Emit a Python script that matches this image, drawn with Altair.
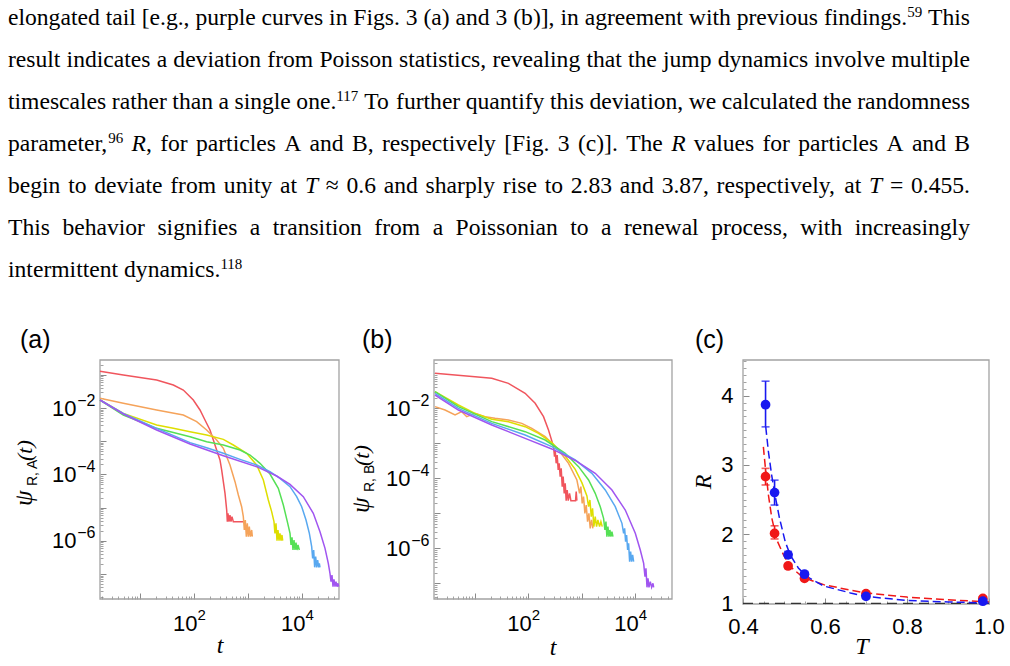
import re
import altair as alt
import pandas as pd

W, H = 1010, 666
SANS = "Liberation Sans, Arial, sans-serif"
SERIF = "Liberation Serif, Times New Roman, serif"
FRAME = "#a3a3a3"
TICK = "#8a8a8a"
TMAJ, TMIN = 6, 3

# ---------------- paragraph text (^..^ = superscript, *..* = italic) ----------------
para_markup = [
    "elongated tail [e.g., purple curves in Figs. 3 (a) and 3 (b)], in agreement with previous findings.^59^ This",
    "result indicates a deviation from Poisson statistics, revealing that the jump dynamics involve multiple",
    "timescales rather than a single one.^117^ To further quantify this deviation, we calculated the randomness",
    "parameter,^96^ *R*, for particles A and B, respectively [Fig. 3 (c)]. The *R* values for particles A and B",
    "begin to deviate from unity at *T* \u2248 0.6 and sharply rise to 2.83 and 3.87, respectively, at *T* = 0.455.",
    "This behavior signifies a transition from a Poissonian to a renewal process, with increasingly",
    "intermittent dynamics.^118^",
]

# ---------------- panel (a): log10(t), log10(psi_R,A) ----------------
curve_names = ["red", "orange", "yellow", "green", "blue", "purple"]
curve_colors = ["#f0555d", "#f5a35a", "#dede00", "#55e055", "#58a8f0", "#a055f0"]

a_red_lt = [0.26, 0.692, 1.309, 1.618, 1.803, 1.988, 2.112, 2.204, 2.297, 2.359, 2.42, 2.482, 2.513, 2.544, 2.575, 2.606, 2.618, 2.63, 2.649, 2.667, 2.686, 2.704, 2.729, 2.914]
a_red_lp = [-0.896, -1.006, -1.157, -1.307, -1.458, -1.759, -2.06, -2.361, -2.663, -2.964, -3.265, -3.566, -3.867, -4.219, -4.57, -5.072, -5.424, -5.173, -5.424, -5.223, -5.424, -5.273, -5.424, -5.424]
a_orange_lt = [0.26, 0.692, 1.309, 1.803, 2.05, 2.235, 2.42, 2.544, 2.667, 2.76, 2.822, 2.883, 2.914, 2.933, 2.951, 2.97, 2.988, 3.007, 3.025, 3.044, 3.069, 3.081]
a_orange_lp = [-1.709, -1.859, -2.06, -2.211, -2.412, -2.663, -2.964, -3.215, -3.717, -4.219, -4.62, -4.972, -5.273, -5.675, -5.373, -5.876, -5.474, -5.876, -5.574, -5.876, -5.675, -5.876]
a_yellow_lt = [0.26, 0.692, 1.309, 1.618, 1.927, 2.235, 2.544, 2.729, 2.976, 3.161, 3.285, 3.377, 3.439, 3.482, 3.5, 3.519, 3.538, 3.556, 3.575, 3.593, 3.612, 3.63, 3.643]
a_yellow_lp = [-1.759, -2.161, -2.512, -2.612, -2.713, -2.813, -2.944, -3.114, -3.365, -3.717, -4.169, -4.771, -5.122, -5.424, -5.775, -5.474, -5.996, -5.675, -5.996, -5.775, -5.996, -5.825, -5.996]
a_green_lt = [0.26, 0.692, 1.309, 1.927, 2.235, 2.544, 2.853, 3.038, 3.223, 3.408, 3.562, 3.655, 3.729, 3.779, 3.797, 3.816, 3.834, 3.853, 3.871, 3.89, 3.908, 3.927, 3.951]
a_green_lp = [-1.759, -2.211, -2.612, -2.863, -3.014, -3.114, -3.265, -3.416, -3.667, -3.988, -4.42, -4.922, -5.424, -5.775, -6.127, -5.896, -6.277, -5.976, -6.277, -6.056, -6.277, -6.127, -6.277]
a_blue_lt = [0.26, 0.692, 1.309, 1.927, 2.235, 2.544, 2.853, 3.161, 3.408, 3.593, 3.779, 3.902, 3.995, 4.075, 4.137, 4.18, 4.198, 4.217, 4.235, 4.254, 4.272, 4.291, 4.309, 4.322, 4.334]
a_blue_lp = [-1.759, -2.161, -2.612, -3.044, -3.195, -3.365, -3.546, -3.717, -3.918, -4.118, -4.369, -4.671, -4.972, -5.373, -5.775, -6.177, -6.528, -6.277, -6.799, -6.478, -6.799, -6.578, -6.799, -6.679, -6.799]
a_purple_lt = [0.26, 0.692, 1.309, 1.927, 2.544, 3.161, 3.532, 3.779, 4.025, 4.21, 4.334, 4.427, 4.488, 4.519, 4.538, 4.556, 4.575, 4.593, 4.612, 4.63, 4.649, 4.667, 4.68]
a_purple_lp = [-1.759, -2.181, -2.663, -3.084, -3.436, -3.767, -4.048, -4.299, -4.671, -5.173, -5.725, -6.227, -6.679, -6.98, -7.231, -7.03, -7.382, -7.161, -7.382, -7.231, -7.382, -7.281, -7.382]

# ---------------- panel (b): log10(t), log10(psi_R,B) ----------------
b_red_lt = [0.262, 1.009, 1.321, 1.632, 1.944, 2.131, 2.287, 2.38, 2.474, 2.492, 2.505, 2.523, 2.542, 2.561, 2.579, 2.598, 2.617, 2.636, 2.654, 2.673, 2.692, 2.71, 2.729, 2.748, 2.773, 2.798, 2.885, 2.897, 2.91]
b_red_lp = [-1.0, -1.095, -1.143, -1.286, -1.571, -1.857, -2.238, -2.619, -3.095, -3.381, -3.19, -3.571, -3.333, -3.762, -3.571, -3.952, -3.714, -4.238, -3.952, -4.429, -4.143, -4.638, -4.333, -4.638, -4.429, -4.638, -4.638, -4.381, -4.638]
b_orange_lt = [0.262, 0.449, 0.636, 0.76, 0.854, 1.009, 1.196, 1.383, 1.632, 1.882, 2.069, 2.318, 2.567, 2.754, 2.91, 2.96, 2.984, 3.009, 3.034, 3.059, 3.084, 3.109, 3.134, 3.159, 3.184, 3.209]
b_orange_lp = [-1.952, -2.048, -2.19, -2.095, -2.238, -2.143, -2.238, -2.286, -2.333, -2.429, -2.571, -2.81, -3.19, -3.571, -4.048, -4.429, -4.238, -4.714, -4.524, -5.0, -4.762, -5.238, -5.0, -5.429, -5.19, -5.429]
b_yellow_lt = [0.262, 0.698, 1.009, 1.321, 1.632, 1.944, 2.193, 2.442, 2.692, 2.879, 3.003, 3.097, 3.128, 3.153, 3.178, 3.202, 3.227, 3.252, 3.277, 3.302, 3.333, 3.358, 3.383]
b_yellow_lp = [-1.524, -1.905, -2.143, -2.314, -2.381, -2.524, -2.714, -2.981, -3.362, -3.743, -4.124, -4.505, -4.81, -4.619, -5.095, -4.857, -5.381, -5.095, -5.381, -5.19, -5.381, -5.238, -5.381]
b_green_lt = [0.262, 0.698, 1.321, 1.944, 2.318, 2.692, 2.941, 3.128, 3.252, 3.346, 3.408, 3.433, 3.452, 3.47, 3.489, 3.508, 3.526, 3.545, 3.564, 3.583]
b_green_lp = [-1.524, -1.952, -2.381, -2.667, -2.905, -3.286, -3.667, -4.048, -4.429, -4.81, -5.143, -5.476, -5.238, -5.667, -5.381, -5.667, -5.476, -5.667, -5.524, -5.667]
b_blue_lt = [0.262, 0.698, 1.321, 1.944, 2.442, 2.879, 3.19, 3.439, 3.626, 3.751, 3.782, 3.801, 3.819, 3.838, 3.857, 3.875, 3.894, 3.913, 3.931, 3.95, 3.969]
b_blue_lp = [-1.571, -2.0, -2.429, -2.762, -3.095, -3.476, -3.857, -4.333, -4.81, -5.286, -5.571, -5.429, -5.81, -5.619, -6.048, -5.857, -6.381, -6.095, -6.381, -6.19, -6.381]
b_purple_lt = [0.262, 0.698, 1.321, 1.944, 2.442, 2.879, 3.252, 3.564, 3.813, 4.0, 4.093, 4.156, 4.181, 4.199, 4.218, 4.237, 4.255, 4.28, 4.305, 4.33, 4.343]
b_purple_lp = [-1.619, -2.048, -2.476, -2.857, -3.16, -3.49, -3.857, -4.333, -4.905, -5.571, -6.048, -6.429, -6.81, -6.571, -7.114, -6.857, -7.114, -6.952, -7.114, -7.0, -7.114]

# ---------------- panel (c): randomness parameter R(T) ----------------
c_T = [0.455, 0.477, 0.51, 0.55, 0.70, 0.985]
c_R_A = [2.83, 2.01, 1.54, 1.36, 1.14, 1.07]
c_R_B = [3.87, 2.60, 1.70, 1.42, 1.10, 1.03]
c_lo_A = [2.71, 1.93, 1.51, 1.34, 1.12, 1.05]
c_hi_A = [2.95, 2.12, 1.57, 1.38, 1.16, 1.09]
c_lo_B = [3.55, 2.42, 1.66, 1.39, 1.08, 1.01]
c_hi_B = [4.21, 2.78, 1.75, 1.46, 1.12, 1.05]
fit_A_T = [0.4497, 0.4539, 0.462, 0.4703, 0.4825, 0.4988, 0.515, 0.5477, 0.5967, 0.662, 0.70, 0.80, 0.90, 1.0]
fit_A_R = [3.26, 3.0, 2.565, 2.23, 1.915, 1.70, 1.53, 1.37, 1.27, 1.19, 1.15, 1.09, 1.05, 1.02]
fit_B_T = [0.4555, 0.462, 0.470, 0.478, 0.489, 0.503, 0.515, 0.535, 0.556, 0.597, 0.662, 0.70, 0.80, 0.90, 1.0]
fit_B_R = [3.55, 3.19, 2.85, 2.565, 2.23, 1.89, 1.70, 1.51, 1.385, 1.25, 1.15, 1.10, 1.04, 1.02, 1.005]
unity_T = [0.4, 1.0]
unity_R = [1.0, 1.0]
C_RED, C_BLUE = "#f01818", "#1818f0"

# ---------------- axes / ticks ----------------
t_major = [10, 100, 1000, 10000]
t_minor = [m * 10 ** k for k in range(0, 5) for m in range(2, 10)]
p_major = [10.0 ** -k for k in range(1, 8)]
p_minor = [m * 10.0 ** -k for k in range(1, 9) for m in range(2, 10)]
t_labeled = [100, 10000]
p_labeled = [1e-2, 1e-4, 1e-6]
T_major = [0.4, 0.6, 0.8, 1.0]
T_minor = [0.45, 0.5, 0.55, 0.65, 0.7, 0.75, 0.85, 0.9, 0.95]
R_major = [1, 2, 3, 4]
R_minor = [round(1 + 0.1 * i, 1) for i in range(1, 36) if i % 10 != 0]

t_base = "datum.value == 100 || datum.value == 10000 ? '10' : ''"
t_exp = "datum.value == 100 ? '2' : '4'"
p_base = ("datum.value > 0.005 && datum.value < 0.02 || datum.value > 0.00005 && datum.value < 0.0002 "
          "|| datum.value > 0.0000005 && datum.value < 0.000002 ? '10' : ''")
p_exp = "datum.value > 0.005 ? '\u22122' : datum.value > 0.00005 ? '\u22124' : '\u22126'"

# panel geometry (pixels)
A_X, A_Y = [100, 339], [599, 360]
B_X, B_Y = [434, 672], [599, 360]
C_X, C_Y = [743, 989], [604, 360]
a_tdom = [10 ** 0.26, 10 ** 4.686]
a_pdom = [10 ** -7.753, 10 ** -0.554]
b_tdom = [10 ** 0.243, 10 ** 4.685]
b_pdom = [10 ** -7.448, 10 ** -0.619]
c_Tdom = [0.4, 1.0]
c_Rdom = [0.99, 4.516]

# ---------------- paragraph typesetting (Times metrics, justified) ----------------
FS, FS_SUP, SUP_RAISE = 23.6, 15, 8
TEXT_X0, TEXT_W = 8, 962
LINE_Y = [25, 277]
TIMES_R = dict(zip("abcdefghijklmnopqrstuvwxyz",
                   [444, 500, 444, 500, 444, 333, 500, 500, 278, 278, 500, 278, 778, 500, 500, 500, 500,
                    333, 389, 278, 500, 500, 722, 500, 500, 444]))
TIMES_R.update(zip("ABCDEFGHIJKLMNOPQRSTUVWXYZ",
                   [722, 667, 667, 722, 611, 556, 722, 722, 333, 389, 722, 611, 889, 722, 722, 556, 722,
                    667, 556, 611, 722, 722, 944, 722, 722, 611]))
TIMES_R.update({c: 500 for c in "0123456789"})
TIMES_R.update({" ": 250, ",": 250, ".": 250, "[": 333, "]": 333, "(": 333, ")": 333, "=": 564, "\u2248": 549})
TIMES_I = {"R": 611, "T": 556}


def run_width(text, kind):
    if kind == "i":
        return sum(TIMES_I.get(c, TIMES_R.get(c, 500)) for c in text) * FS / 1000
    size = FS_SUP if kind == "s" else FS
    return sum(TIMES_R.get(c, 500) for c in text) * size / 1000


def parse_word(word):
    runs = []
    for m in re.finditer(r"\^(.+?)\^|\*(.+?)\*|([^^*]+)", word):
        if m.group(1):
            runs.append((m.group(1), "s"))
        elif m.group(2):
            runs.append((m.group(2), "i"))
        else:
            runs.append((m.group(3), "r"))
    return runs


text_rows = []
for li, line in enumerate(para_markup):
    words = [parse_word(w) for w in line.split(" ")]
    widths = [sum(run_width(t, k) for t, k in w) for w in words]
    last = li == len(para_markup) - 1
    gap = 250 * FS / 1000 if last else (TEXT_W - sum(widths)) / (len(words) - 1)
    x = TEXT_X0
    for w, wd in zip(words, widths):
        xx = x
        for t, k in w:
            text_rows.append({"line": li, "x": xx, "text": t, "kind": k})
            xx += run_width(t, k)
        x += wd + gap
text_df = pd.DataFrame(text_rows)


def curves_df(series):
    rows = []
    for name, lt, lp in series:
        for i, (x, y) in enumerate(zip(lt, lp)):
            rows.append({"curve": name, "i": i, "t": 10 ** x, "psi": 10 ** y})
    return pd.DataFrame(rows)


def tick_axis(orient, offset, values, size):
    return alt.Axis(orient=orient, offset=offset, values=values, tickSize=size, tickColor=TICK,
                    tickWidth=0.8, labels=False, domain=False, grid=False, title=None)


def label_axis(orient, offset, values, size, pad, fsize, expr=None, fmt=None, align=None,
               loff=0, ticks=True):
    kw = dict(orient=orient, offset=offset, values=values, ticks=ticks, tickColor=TICK,
              tickWidth=1, labelPadding=pad, labelFont=SANS, labelFontSize=fsize,
              labelColor="black", labelFlush=False, labelOverlap=False, domain=False,
              grid=False, title=None, labelOffset=loff)
    if ticks:
        kw["tickSize"] = size
    if expr:
        kw["labelExpr"] = expr
    if fmt:
        kw["format"] = fmt
    if align:
        kw["labelAlign"] = align
    return alt.Axis(**kw)


def log_panel(df, tdom, pdom, xr, yr):
    xs = lambda: alt.Scale(type="log", domain=tdom, range=xr, nice=False)
    ys = lambda: alt.Scale(type="log", domain=pdom, range=yr, nice=False)
    frame_df = pd.DataFrame({"x0": [tdom[0]], "x1": [tdom[1]], "y0": [pdom[0]], "y1": [pdom[1]]})
    frame = alt.Chart(frame_df).mark_rect(fillOpacity=0, stroke=FRAME, strokeWidth=1.3).encode(
        x=alt.X("x0:Q", scale=xs(), axis=tick_axis("bottom", yr[0] - TMIN - H, t_minor, TMIN)),
        x2=alt.X2("x1"),
        y=alt.Y("y0:Q", scale=ys(), axis=tick_axis("left", -(xr[0] + TMIN), p_minor, TMIN)),
        y2=alt.Y2("y1"),
    )
    expo = alt.Chart(frame_df).mark_rect(fillOpacity=0, strokeOpacity=0).encode(
        x=alt.X("x0:Q", scale=xs(), axis=label_axis("bottom", yr[0] - H, t_labeled, 0, 8, 15,
                                                     expr=t_exp, align="left", loff=3, ticks=False)),
        x2=alt.X2("x1"),
        y=alt.Y("y0:Q", scale=ys(), axis=label_axis("left", -xr[0], p_labeled, 0, 5, 16,
                                                     expr=p_exp, align="right", loff=-8, ticks=False)),
        y2=alt.Y2("y1"),
    )
    lines = alt.Chart(df).mark_line(strokeWidth=1.5).encode(
        x=alt.X("t:Q", scale=xs(), axis=label_axis("bottom", yr[0] - TMAJ - H, t_major, TMAJ, 14, 22,
                                                    expr=t_base, align="right", loff=3)),
        y=alt.Y("psi:Q", scale=ys(), axis=label_axis("left", -(xr[0] + TMAJ), p_major, TMAJ, 24, 22,
                                                      expr=p_base, align="right")),
        color=alt.Color("curve:N", scale=alt.Scale(domain=curve_names, range=curve_colors), legend=None),
        order=alt.Order("i:Q"),
    )
    return [frame, expo, lines]


def txt(text, x, y, size, font=SANS, style="normal", angle=0, align="left"):
    return alt.Chart(pd.DataFrame({"k": [0]})).mark_text(
        text=text, font=font, fontSize=size, fontStyle=style, angle=angle, align=align,
        baseline="alphabetic", color="black",
    ).encode(x=alt.value(x), y=alt.value(y))


df_a = curves_df([
    ("red", a_red_lt, a_red_lp), ("orange", a_orange_lt, a_orange_lp),
    ("yellow", a_yellow_lt, a_yellow_lp), ("green", a_green_lt, a_green_lp),
    ("blue", a_blue_lt, a_blue_lp), ("purple", a_purple_lt, a_purple_lp)])
df_b = curves_df([
    ("red", b_red_lt, b_red_lp), ("orange", b_orange_lt, b_orange_lp),
    ("yellow", b_yellow_lt, b_yellow_lp), ("green", b_green_lt, b_green_lp),
    ("blue", b_blue_lt, b_blue_lp), ("purple", b_purple_lt, b_purple_lp)])

layers = []
layers += log_panel(df_a, a_tdom, a_pdom, A_X, A_Y)
layers += log_panel(df_b, b_tdom, b_pdom, B_X, B_Y)

# ---------------- panel (c) layers ----------------
cxs = lambda: alt.Scale(type="linear", domain=c_Tdom, range=C_X, nice=False, zero=False)
cys = lambda: alt.Scale(type="linear", domain=c_Rdom, range=C_Y, nice=False, zero=False)
ccol = lambda: alt.Color("s:N", scale=alt.Scale(domain=["A", "B"], range=[C_RED, C_BLUE]), legend=None)

c_frame_df = pd.DataFrame({"x0": [c_Tdom[0]], "x1": [c_Tdom[1]], "y0": [c_Rdom[0]], "y1": [c_Rdom[1]]})
layers.append(alt.Chart(c_frame_df).mark_rect(fillOpacity=0, stroke=FRAME, strokeWidth=1.3).encode(
    x=alt.X("x0:Q", scale=cxs(), axis=tick_axis("bottom", C_Y[0] - TMIN - H, T_minor, TMIN)),
    x2=alt.X2("x1"),
    y=alt.Y("y0:Q", scale=cys(), axis=tick_axis("left", -(C_X[0] + TMIN), R_minor, TMIN)),
    y2=alt.Y2("y1"),
))

unity_df = pd.DataFrame({"T": unity_T, "R": unity_R})
layers.append(alt.Chart(unity_df).mark_line(color="#333333", strokeWidth=1.3, strokeDash=[10, 6]).encode(
    x=alt.X("T:Q", scale=cxs(), axis=None), y=alt.Y("R:Q", scale=cys(), axis=None)))

fit_df = pd.DataFrame(
    [{"s": "A", "i": i, "T": a, "R": b} for i, (a, b) in enumerate(zip(fit_A_T, fit_A_R))]
    + [{"s": "B", "i": i, "T": a, "R": b} for i, (a, b) in enumerate(zip(fit_B_T, fit_B_R))])
layers.append(alt.Chart(fit_df).mark_line(strokeWidth=1.5, strokeDash=[8, 4]).encode(
    x=alt.X("T:Q", scale=cxs(), axis=None), y=alt.Y("R:Q", scale=cys(), axis=None),
    color=ccol(), order=alt.Order("i:Q")))

pts_df = pd.DataFrame(
    [{"s": "A", "T": t, "R": r, "lo": lo, "hi": hi} for t, r, lo, hi in zip(c_T, c_R_A, c_lo_A, c_hi_A)]
    + [{"s": "B", "T": t, "R": r, "lo": lo, "hi": hi} for t, r, lo, hi in zip(c_T, c_R_B, c_lo_B, c_hi_B)])
layers.append(alt.Chart(pts_df).mark_rule(strokeWidth=1.6).encode(
    x=alt.X("T:Q", scale=cxs(), axis=None), y=alt.Y("lo:Q", scale=cys(), axis=None),
    y2=alt.Y2("hi"), color=ccol()))
for fld in ["lo", "hi"]:
    layers.append(alt.Chart(pts_df).mark_tick(orient="horizontal", size=8, thickness=1.6).encode(
        x=alt.X("T:Q", scale=cxs(), axis=None), y=alt.Y(f"{fld}:Q", scale=cys(), axis=None),
        color=ccol()))
layers.append(alt.Chart(pts_df).mark_circle(size=95, opacity=1).encode(
    x=alt.X("T:Q", scale=cxs(), axis=label_axis("bottom", C_Y[0] - TMAJ - H, T_major, TMAJ, 12, 22, fmt=".1f")),
    y=alt.Y("R:Q", scale=cys(), axis=label_axis("left", -(C_X[0] + TMAJ), R_major, TMAJ, 10, 22, fmt="d")),
    color=ccol()))

# ---------------- paragraph layers ----------------
px_x = lambda: alt.X("x:Q", scale=alt.Scale(domain=[0, W], range=[0, W], nice=False, zero=False), axis=None)
px_y = lambda: alt.Y("line:Q", scale=alt.Scale(domain=[0, len(para_markup) - 1], range=LINE_Y,
                                               nice=False, zero=False), axis=None)
for kind, style, size, dy in [("r", "normal", FS, 0), ("i", "italic", FS, 0), ("s", "normal", FS_SUP, -SUP_RAISE)]:
    sub = text_df[text_df["kind"] == kind]
    layers.append(alt.Chart(sub).mark_text(
        align="left", baseline="alphabetic", font=SERIF, fontSize=size, fontStyle=style,
        dy=dy, color="black").encode(x=px_x(), y=px_y(), text="text:N"))

# ---------------- panel labels and axis titles ----------------
layers += [
    txt("(a)", 20, 348, 25), txt("(b)", 362, 348, 25), txt("(c)", 695, 348, 25),
    txt("t", 220, 653, 24, SERIF, "italic", align="center"),
    txt("t", 553, 655, 24, SERIF, "italic", align="center"),
    txt("T", 862, 654, 24, SERIF, "italic", align="center"),
    txt("R", 711, 482, 24, SERIF, "italic", angle=270, align="center"),
    txt("\u03c8", 32, 506, 25, SERIF, "italic", angle=270),
    txt("R, A", 37, 486, 14, SANS, angle=270),
    txt("(t)", 32, 461, 22, SERIF, "italic", angle=270),
    txt("\u03c8", 369, 513, 25, SERIF, "italic", angle=270),
    txt("R, B", 374, 492, 14, SANS, angle=270),
    txt("(t)", 369, 466, 22, SERIF, "italic", angle=270),
]

chart = alt.layer(*layers).resolve_scale(
    x="independent", y="independent", color="independent"
).properties(
    width=W, height=H, padding=0, background="white",
    autosize=alt.AutoSizeParams(type="none"),
).configure_view(strokeWidth=0)

chart.save("out.html", embed_options={"renderer": "svg", "actions": False})
